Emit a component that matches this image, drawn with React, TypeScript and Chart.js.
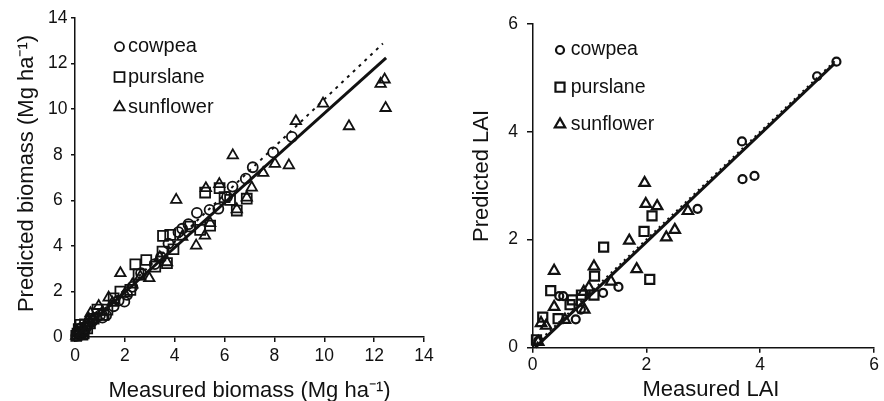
import React, { useEffect, useRef } from 'react';
import { Chart, registerables } from 'chart.js';

Chart.register(...registerables);

// ---------- Left panel: biomass (Mg ha-1), [measured, predicted] ----------
const biomassCowpea: number[][] = [
  [0.05, 0.05], [0.12, 0.2], [0.2, 0.08], [0.25, 0.4], [0.3, 0.25], [0.4, 0.3], [0.45, 0.45],
  [0.55, 0.55], [0.7, 0.7], [0.85, 0.85], [1.0, 0.95], [1.1, 0.85], [1.25, 0.95], [1.55, 1.35],
  [1.75, 1.6], [1.98, 1.55], [2.09, 1.85], [2.3, 2.2], [2.65, 2.8], [3.2, 3.2], [3.45, 3.5],
  [3.75, 4.1], [4.15, 4.6], [4.3, 4.75], [4.55, 4.95], [4.89, 5.45], [5.4, 5.58], [5.75, 5.63],
  [6.1, 6.15], [6.32, 6.6], [6.85, 6.95], [7.13, 7.45], [7.95, 8.1], [8.7, 8.78],
];
const biomassPurslane: number[][] = [
  [0.05, 0.05], [0.1, 0.15], [0.15, 0.35], [0.22, 0.53], [0.3, 0.1], [0.35, 0.16], [0.4, 0.55],
  [0.49, 0.38], [0.6, 0.6], [0.75, 0.8], [0.9, 1.2], [1.15, 0.97], [1.3, 1.2], [1.55, 1.7],
  [1.82, 1.99], [2.22, 2.07], [2.42, 3.19], [2.55, 2.75], [2.86, 3.38], [3.22, 3.09], [3.51, 3.75],
  [3.53, 4.44], [3.69, 3.24], [3.82, 4.48], [3.95, 3.85], [4.62, 4.85], [5.02, 4.7], [5.22, 6.34],
  [5.42, 4.89], [5.8, 6.53], [6.0, 6.14], [6.22, 6.02], [6.49, 5.55], [6.89, 6.07],
];
const biomassSunflower: number[][] = [
  [0.05, 0.05], [0.1, 0.25], [0.2, 0.1], [0.25, 0.2], [0.35, 0.4], [0.45, 0.6], [0.55, 0.8],
  [0.62, 1.04], [0.7, 0.75], [0.95, 1.36], [1.1, 1.1], [1.35, 1.73], [1.5, 1.5], [1.82, 2.8],
  [2.0, 1.9], [2.3, 2.3], [2.62, 2.65], [2.98, 2.58], [3.4, 3.5], [3.69, 3.28], [4.06, 6.02],
  [4.3, 4.4], [4.86, 4.01], [5.21, 4.45], [5.25, 6.53], [5.42, 5.0], [5.79, 6.71], [6.33, 7.97],
  [6.49, 5.6], [6.89, 6.12], [7.09, 6.56], [7.55, 7.2], [8.02, 7.6], [8.58, 7.53], [8.86, 9.47],
  [9.95, 10.24], [10.99, 9.25], [12.26, 11.11], [12.42, 11.3], [12.46, 10.05],
];
const biomassFit: number[][] = [[0, 0], [12.48, 12.25]];
const biomassDotted: number[][] = [[0, 0], [12.35, 12.88]];

// ---------- Right panel: LAI, [measured, predicted] ----------
const laiCowpea: number[][] = [
  [0.1, 0.12], [0.47, 0.95], [0.54, 0.95], [0.76, 0.52], [0.85, 0.7], [1.24, 1.01], [1.51, 1.12],
  [2.9, 2.57], [3.68, 3.82], [3.69, 3.12], [3.9, 3.18], [5.0, 5.03], [5.34, 5.3],
];
const laiPurslane: number[][] = [
  [0.07, 0.14], [0.18, 0.56], [0.32, 1.05], [0.45, 0.53], [0.66, 0.79], [0.7, 0.88], [0.86, 0.97],
  [1.08, 0.97], [1.09, 1.32], [1.25, 1.86], [1.96, 2.15], [2.06, 1.26], [2.1, 2.44],
];
const laiSunflower: number[][] = [
  [0.1, 0.1], [0.15, 0.45], [0.24, 0.4], [0.38, 1.42], [0.38, 0.75], [0.57, 0.51], [0.9, 1.03],
  [0.91, 0.7], [0.99, 1.11], [1.08, 1.5], [1.38, 1.22], [1.7, 1.98], [1.83, 1.45], [1.97, 3.05],
  [1.99, 2.66], [2.19, 2.62], [2.35, 2.04], [2.5, 2.18], [2.73, 2.53],
];
const laiFit: number[][] = [[0.05, 0.0], [5.31, 5.27]];
const laiDotted: number[][] = [[0, 0], [5.33, 5.33]];

const seriesLabels = ['cowpea', 'purslane', 'sunflower'];
const seriesStyles = ['circle', 'rect', 'triangle'];

const INK = '#111111';
const FONT = '"Liberation Sans", Arial, Helvetica, sans-serif';

const pts = (a: number[][]) => a.map(([x, y]) => ({ x, y }));

function drawMarker(ctx: CanvasRenderingContext2D, style: string, x: number, y: number, r: number) {
  ctx.beginPath();
  if (style === 'circle') {
    ctx.arc(x, y, r, 0, Math.PI * 2);
  } else if (style === 'rect') {
    const s = r * Math.SQRT1_2;
    ctx.rect(x - s, y - s, 2 * s, 2 * s);
  } else {
    ctx.moveTo(x, y - r);
    ctx.lineTo(x + r * Math.sin((2 * Math.PI) / 3), y - r * Math.cos((2 * Math.PI) / 3));
    ctx.lineTo(x + r * Math.sin((4 * Math.PI) / 3), y - r * Math.cos((4 * Math.PI) / 3));
  }
  ctx.closePath();
  ctx.stroke();
}

const overlayPlugin = {
  id: 'overlay',
  afterDraw(chart: any, _args: any, o: any) {
    const ctx: CanvasRenderingContext2D = chart.ctx;
    const ca = chart.chartArea;
    ctx.save();
    // legend inside the plot
    ctx.strokeStyle = INK;
    ctx.fillStyle = INK;
    ctx.lineWidth = o.legendLine;
    ctx.font = `${o.legendSize}px ${FONT}`;
    ctx.textAlign = 'left';
    ctx.textBaseline = 'middle';
    seriesLabels.forEach((label, i) => {
      const y = ca.top + o.legendTop + i * o.legendGap;
      const mx = ca.left + o.legendLeft;
      drawMarker(ctx, seriesStyles[i], mx, y, o.legendR[i]);
      ctx.fillText(label, mx + o.legendTextGap, y);
    });
    // axis titles
    ctx.font = `${o.titleSize}px ${FONT}`;
    ctx.textAlign = 'center';
    ctx.textBaseline = 'alphabetic';
    ctx.fillText(o.xTitle, (ca.left + ca.right) / 2 + o.xTitleDx, o.xTitleBase);
    ctx.translate(o.yTitleBase, (ca.top + ca.bottom) / 2 + o.yTitleDy);
    ctx.rotate(-Math.PI / 2);
    ctx.fillText(o.yTitle, 0, 0);
    ctx.restore();
  },
};

function makeConfig(p: any): any {
  const series = [p.cowpea, p.purslane, p.sunflower];
  const datasets: any[] = series.map((s: number[][], i: number) => ({
    label: seriesLabels[i],
    data: pts(s),
    pointStyle: seriesStyles[i],
    pointRadius: p.radii[i],
    pointBorderWidth: p.markerLine,
    pointBorderColor: INK,
    pointBackgroundColor: 'rgba(0,0,0,0)',
    showLine: false,
    clip: false,
    order: 2,
  }));
  datasets.push({
    label: 'fit',
    data: pts(p.fit),
    showLine: true,
    borderColor: INK,
    borderWidth: p.fitWidth,
    pointRadius: 0,
    order: 1,
    clip: false,
  });
  datasets.push({
    label: 'dotted',
    data: pts(p.dotted),
    showLine: true,
    borderColor: INK,
    borderWidth: 2,
    borderDash: p.dash,
    pointRadius: 0,
    order: 1,
    clip: false,
  });
  const axisCommon = {
    type: 'linear',
    min: 0,
    max: p.max,
    border: { display: true, color: INK, width: 1.5 },
    grid: { display: true, drawOnChartArea: false, drawTicks: true, color: INK, lineWidth: 1.5 },
    title: { display: false },
  };
  return {
    type: 'scatter',
    data: { datasets },
    options: {
      animation: false,
      responsive: false,
      devicePixelRatio: 1,
      layout: { padding: { left: 0, top: p.padTop, right: p.padRight, bottom: 0 } },
      plugins: {
        legend: { display: false },
        tooltip: { enabled: false },
        overlay: p.overlay,
      },
      scales: {
        x: {
          ...axisCommon,
          position: 'bottom',
          grid: { ...axisCommon.grid, tickLength: p.xTickLen },
          ticks: { stepSize: p.step, padding: p.xTickPad, color: INK, font: { family: FONT, size: 17.5 }, maxRotation: 0 },
          afterFit: (s: any) => { s.height = p.xHeight; },
        },
        y: {
          ...axisCommon,
          position: 'left',
          grid: { ...axisCommon.grid, tickLength: p.yTickLen },
          ticks: { stepSize: p.step, padding: p.yTickPad, color: INK, crossAlign: p.yAlign, font: { family: FONT, size: 17.5 } },
          afterFit: (s: any) => { s.width = p.yWidth; },
        },
      },
    },
    plugins: [overlayPlugin],
  };
}

const leftSpec = {
  cowpea: biomassCowpea, purslane: biomassPurslane, sunflower: biomassSunflower,
  fit: biomassFit, dotted: biomassDotted, dash: [3, 5],
  max: 14, step: 2, radii: [5, 7, 6], markerLine: 1.8, fitWidth: 3,
  padTop: 18, padRight: 16, xHeight: 64, yWidth: 75,
  xTickLen: 5, xTickPad: 4, yTickLen: 4, yTickPad: 3.5, yAlign: 'center',
  overlay: {
    legendLine: 1.8, legendSize: 20, legendTop: 28.7, legendGap: 30.3, legendLeft: 44.5,
    legendTextGap: 8.5, legendR: [4.5, 7, 6],
    titleSize: 22, xTitle: 'Measured biomass (Mg ha⁻¹)', xTitleDx: 0, xTitleBase: 397,
    yTitle: 'Predicted biomass (Mg ha⁻¹)', yTitleBase: 33, yTitleDy: -4,
  },
};

const rightSpec = {
  cowpea: laiCowpea, purslane: laiPurslane, sunflower: laiSunflower,
  fit: laiFit, dotted: laiDotted, dash: [2, 4],
  max: 6, step: 2, radii: [4, 6.4, 6], markerLine: 2.2, fitWidth: 3,
  padTop: 24, padRight: 10, xHeight: 53.7, yWidth: 92.5,
  xTickLen: 5.5, xTickPad: 2, yTickLen: 5.5, yTickPad: 9, yAlign: 'near',
  overlay: {
    legendLine: 2.2, legendSize: 19.5, legendTop: 26, legendGap: 37.2, legendLeft: 27.5,
    legendTextGap: 10.7, legendR: [4, 6.4, 6],
    titleSize: 22, xTitle: 'Measured LAI', xTitleDx: 7.75, xTitleBase: 396,
    yTitle: 'Predicted LAI', yTitleBase: 48, yTitleDy: -9.7,
  },
};

function Panel({ spec, left, width }: { spec: any; left: number; width: number }) {
  const ref = useRef<HTMLCanvasElement>(null);
  useEffect(() => {
    const chart = new Chart(ref.current as HTMLCanvasElement, makeConfig(spec));
    return () => chart.destroy();
  }, [spec]);
  return (
    <canvas
      ref={ref}
      width={width}
      height={401}
      style={{ position: 'absolute', left, top: 0, width, height: 401, display: 'block' }}
    />
  );
}

export default function App() {
  return (
    <div style={{ position: 'fixed', left: 0, top: 0, width: 884, height: 401, background: '#fff', overflow: 'hidden' }}>
      <Panel spec={leftSpec} left={0} width={440} />
      <Panel spec={rightSpec} left={440} width={444} />
    </div>
  );
}
